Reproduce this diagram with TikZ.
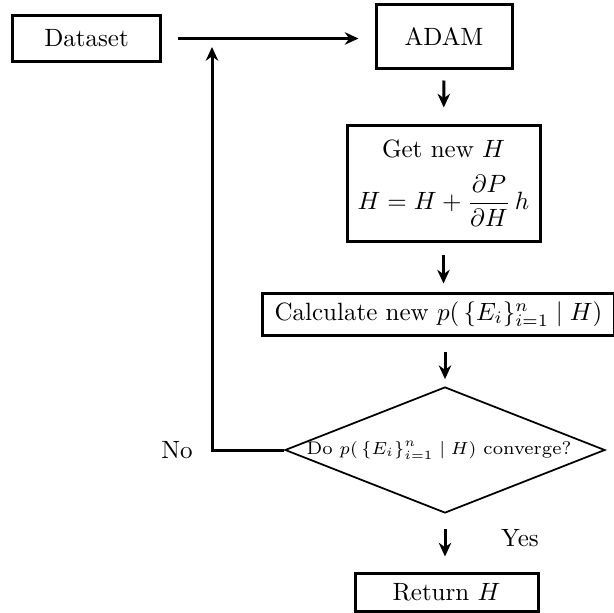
\documentclass[tikz,border=0pt]{standalone}
\usepackage{amsmath}
\usetikzlibrary{shapes.geometric,arrows.meta}
\begin{document}
\begin{tikzpicture}[x=0.4pt,y=-0.4pt,
  box/.style={draw,line width=1.2pt,inner sep=0pt,align=center},
  arr/.style={line width=1.2pt,-{Stealth[length=5.5pt,width=5pt]}},
  decision/.style={draw,diamond,line width=0.7pt,inner sep=0pt,aspect=2.54}]
\useasboundingbox (0,0) rectangle (614,613);
\node[box,minimum width=58.8pt,minimum height=18pt] (dataset) at (86.5,38.5) {Dataset};
\node[box,minimum width=54.4pt,minimum height=25.2pt] (adam) at (444,36.5) {ADAM};
\node[box,minimum width=77.2pt,minimum height=46.4pt] (getnew) at (443.5,183)
  {Get new $H$\\[6pt] $\displaystyle H=H+\frac{\partial P}{\partial H}\,h$};
\node[box,minimum width=140.4pt,minimum height=16.8pt] (calc) at (438.5,314)
  {Calculate new $p(\,\{E_i\}_{i=1}^n\mid H)$};
\node[decision,minimum width=128pt,minimum height=50.4pt] (dia) at (445,450) {};
\node[font=\fontsize{7.3}{9}\selectfont,inner sep=0pt] (diatext) at (439,450)
  {Do $p(\,\{E_i\}_{i=1}^n\mid H)$ converge?};
\node[box,minimum width=73.2pt,minimum height=15.2pt] (ret) at (446.5,592) {Return $H$};
\node (no) at (177,450) {No};
\node (yes) at (520,538) {Yes};
\coordinate (looptop) at (212,47);
\draw[arr,shorten <=6.4pt,shorten >=6.4pt] (dataset.east) -- (dataset.east -| adam.west);
\draw[arr,shorten <=4.4pt,shorten >=6.4pt] (adam) -- (getnew);
\draw[arr,shorten <=4.8pt,shorten >=3.2pt] (getnew) -- (getnew.south |- calc.north);
\draw[arr,shorten <=6pt,shorten >=2.8pt] (calc.south -| dia.north) -- (dia.north);
\draw[arr,shorten <=6pt,shorten >=6pt] (dia.south) -- (dia.south |- ret.north);
\draw[arr] (dia.west) -| (looptop);
\end{tikzpicture}
\end{document}
